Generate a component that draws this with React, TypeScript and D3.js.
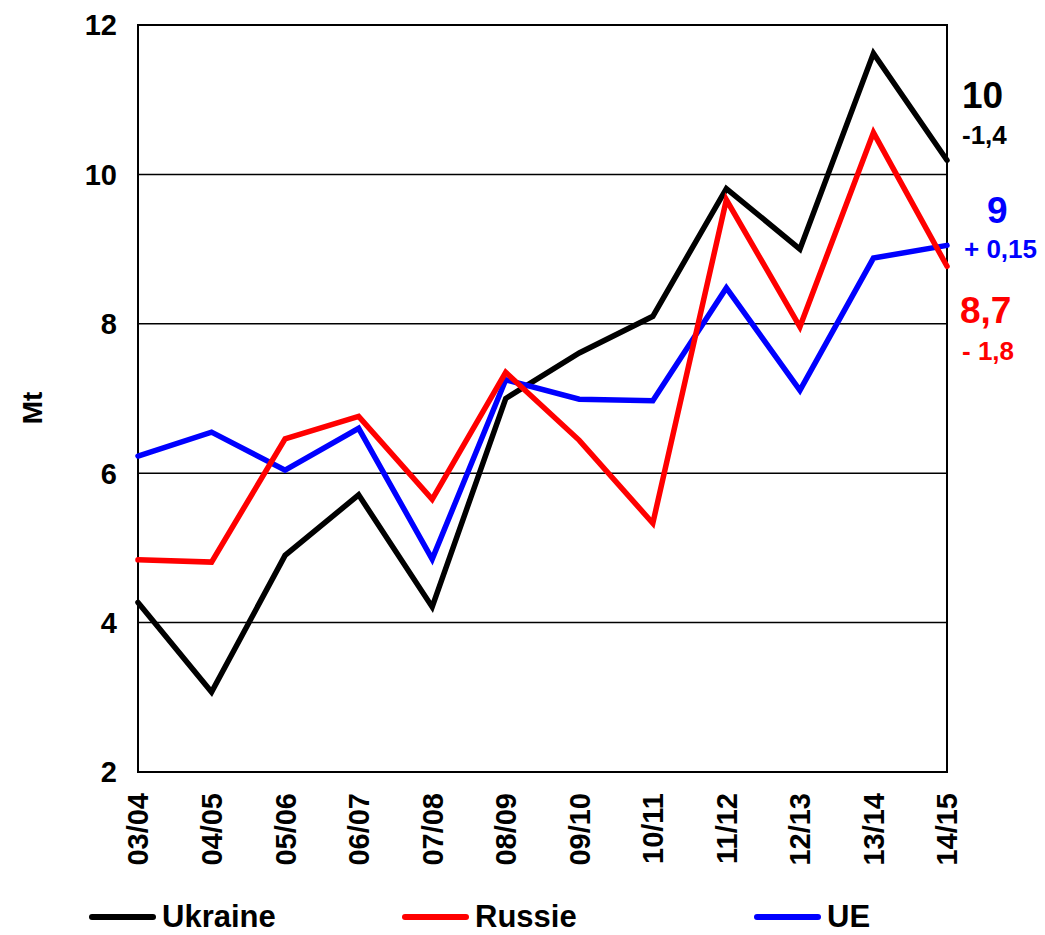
import React, { useEffect, useRef } from "react";
import * as d3 from "d3";

// campagnes
const seasons = ["03/04", "04/05", "05/06", "06/07", "07/08", "08/09", "09/10", "10/11", "11/12", "12/13", "13/14", "14/15"];

// Mt
const ukraine = [4.27, 3.07, 4.9, 5.71, 4.21, 7.0, 7.61, 8.1, 9.81, 9.0, 11.62, 10.19];
const russie = [4.84, 4.81, 6.46, 6.76, 5.65, 7.35, 6.44, 5.33, 9.66, 7.96, 10.56, 8.77];
const ue = [6.23, 6.55, 6.04, 6.6, 4.85, 7.25, 6.99, 6.97, 8.48, 7.11, 8.88, 9.05];

const yTicks = [2, 4, 6, 8, 10, 12];

const seriesNames = ["Ukraine", "Russie", "UE"];
const seriesColors = ["#000000", "#ff0000", "#0000ff"];

// annotations à droite : valeur, variation
const endValues = ["10", "8,7", "9"];
const endChanges = ["-1,4", "- 1,8", "+ 0,15"];

const FONT = "'Liberation Sans', Arial, Helvetica, sans-serif";

const App = () => {
  const svgRef = useRef<SVGSVGElement>(null);

  useEffect(() => {
    const width = 1045;
    const height = 935;
    const margin = { top: 25, right: 98, bottom: 163, left: 138 };

    const svg = d3.select(svgRef.current).attr("width", width).attr("height", height);
    svg.selectAll("*").remove();

    const innerWidth = width - margin.left - margin.right;
    const innerHeight = height - margin.top - margin.bottom;

    const g = svg.append("g").attr("transform", `translate(${margin.left},${margin.top})`);

    const x = d3.scalePoint<string>().domain(seasons).range([0, innerWidth]);
    const y = d3.scaleLinear().domain([2, 12]).range([innerHeight, 0]);

    // grille
    g.selectAll(".grid")
      .data(yTicks.filter(t => t > 2 && t < 12))
      .enter()
      .append("line")
      .attr("x1", 0)
      .attr("x2", innerWidth)
      .attr("y1", d => y(d))
      .attr("y2", d => y(d))
      .attr("stroke", "#000")
      .attr("stroke-width", 1.5);

    // cadre
    g.append("rect")
      .attr("width", innerWidth)
      .attr("height", innerHeight)
      .attr("fill", "none")
      .attr("stroke", "#000")
      .attr("stroke-width", 2);

    // axe Y
    g.selectAll(".ylab")
      .data(yTicks)
      .enter()
      .append("text")
      .attr("x", -21)
      .attr("y", d => y(d))
      .attr("dy", "0.36em")
      .attr("text-anchor", "end")
      .style("font-family", FONT)
      .style("font-weight", "bold")
      .style("font-size", "29px")
      .text(d => d);

    g.append("text")
      .attr("transform", `translate(${32 - margin.left},${408 - margin.top}) rotate(-90)`)
      .attr("text-anchor", "middle")
      .attr("dy", "0.36em")
      .style("font-family", FONT)
      .style("font-weight", "bold")
      .style("font-size", "28px")
      .text("Mt");

    // axe X
    g.selectAll(".xlab")
      .data(seasons)
      .enter()
      .append("text")
      .attr("transform", d => `translate(${x(d)},${innerHeight + 21}) rotate(-90)`)
      .attr("text-anchor", "end")
      .attr("dy", "0.36em")
      .style("font-family", FONT)
      .style("font-weight", "bold")
      .style("font-size", "29px")
      .text(d => d);

    // courbes
    const line = d3.line<number>()
      .x((_, i) => x(seasons[i]) as number)
      .y(d => y(d));

    const allSeries = [ukraine, russie, ue];
    const drawOrder = [0, 2, 1];
    drawOrder.forEach(i => {
      g.append("path")
        .datum(allSeries[i])
        .attr("fill", "none")
        .attr("stroke", seriesColors[i])
        .attr("stroke-width", 5.5)
        .attr("stroke-linejoin", "miter")
        .attr("stroke-linecap", "round")
        .attr("d", line);
    });

    // annotations de fin
    const annX = innerWidth + 15;
    const annBig = [108, 323, 223];
    const annBigX = [annX, annX - 2, annX + 25];
    const annSmall = [144, 360, 258];
    endValues.forEach((v, i) => {
      g.append("text")
        .attr("x", annBigX[i])
        .attr("y", annBig[i] - margin.top)
        .attr("fill", seriesColors[i])
        .style("font-family", FONT)
        .style("font-weight", "bold")
        .style("font-size", "37px")
        .text(v);
      g.append("text")
        .attr("x", annX + (i === 2 ? 2 : 0))
        .attr("y", annSmall[i] - margin.top)
        .attr("fill", seriesColors[i])
        .style("font-family", FONT)
        .style("font-weight", "bold")
        .style("font-size", "26px")
        .text(endChanges[i]);
    });

    // légende
    const legendX = [92, 405, 757];
    const legendY = 917;
    seriesNames.forEach((name, i) => {
      svg.append("line")
        .attr("x1", legendX[i])
        .attr("x2", legendX[i] + 61)
        .attr("y1", legendY)
        .attr("y2", legendY)
        .attr("stroke", seriesColors[i])
        .attr("stroke-width", 6)
        .attr("stroke-linecap", "round");
      svg.append("text")
        .attr("x", legendX[i] + 70)
        .attr("y", legendY - 1)
        .attr("dy", "0.36em")
        .style("font-family", FONT)
        .style("font-weight", "bold")
        .style("font-size", "31px")
        .text(name);
    });
  }, []);

  return (
    <div style={{ position: "absolute", left: 0, top: 0, background: "#fff" }}>
      <svg ref={svgRef} style={{ display: "block" }}></svg>
    </div>
  );
};

export default App;
